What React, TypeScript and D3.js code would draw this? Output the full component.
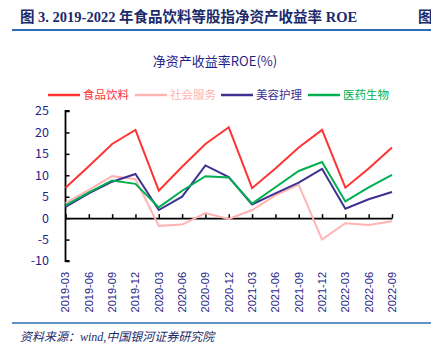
import React, { useEffect, useRef } from "react";
import * as d3 from "d3";

const quarters = [
  "2019-03", "2019-06", "2019-09", "2019-12",
  "2020-03", "2020-06", "2020-09", "2020-12",
  "2021-03", "2021-06", "2021-09", "2021-12",
  "2022-03", "2022-06", "2022-09",
];

const food = [7.1, 12.1, 17.3, 20.6, 6.4, 12.0, 17.3, 21.2, 7.0, 11.6, 16.5, 20.6, 7.1, 11.6, 16.5];
const social = [3.5, 6.6, 9.8, 9.1, -1.8, -1.5, 1.2, -0.2, 1.9, 5.3, 7.8, -5.0, -1.2, -1.6, -0.7];
const beauty = [2.6, 5.8, 8.5, 10.3, 1.9, 5.0, 12.3, 9.6, 3.2, 5.8, 8.3, 11.5, 2.2, 4.4, 6.1];
const pharma = [3.0, 6.0, 8.8, 8.0, 2.5, 6.4, 9.8, 9.5, 3.4, 7.2, 11.0, 13.1, 3.9, 7.2, 10.1];

const seriesNames = ["食品饮料", "社会服务", "美容护理", "医药生物"];
const seriesColors = ["#ff3333", "#ffb3b3", "#3d3192", "#00b050"];
const yTicks = [-10, -5, 0, 5, 10, 15, 20, 25];

const navy = "#1f1f8a";

function App() {
  const svgRef = useRef<SVGSVGElement | null>(null);

  useEffect(() => {
    const svg = d3.select(svgRef.current);
    svg.selectAll("*").remove();

    const width = 431;
    const height = 353;
    const cjk = "'Noto Sans CJK SC', 'Noto Sans', sans-serif";

    svg.attr("width", width).attr("height", height);

    // header
    svg
      .append("text")
      .attr("x", 20)
      .attr("y", 22)
      .attr("fill", "#1b2a6b")
      .attr("font-family", "'Liberation Serif', 'Noto Sans CJK SC', serif")
      .attr("font-weight", "bold")
      .attr("font-size", 14.5)
      .text("图 3. 2019-2022 年食品饮料等股指净资产收益率 ROE");
    svg
      .append("text")
      .attr("x", 418)
      .attr("y", 22)
      .attr("fill", "#1b2a6b")
      .attr("font-family", "'Liberation Serif', 'Noto Sans CJK SC', serif")
      .attr("font-weight", "bold")
      .attr("font-size", 14.5)
      .text("图");
    svg
      .append("line")
      .attr("x1", 12)
      .attr("x2", width)
      .attr("y1", 30)
      .attr("y2", 30)
      .attr("stroke", "#2e6db5")
      .attr("stroke-width", 2);

    // chart title
    svg
      .append("text")
      .attr("x", 215)
      .attr("y", 66)
      .attr("text-anchor", "middle")
      .attr("fill", navy)
      .attr("font-family", cjk)
      .attr("font-size", 13)
      .text("净资产收益率ROE(%)");

    // legend
    const legendX = [48, 135, 221, 308];
    seriesNames.forEach((name, i) => {
      const g = svg.append("g").attr("transform", `translate(${legendX[i]}, 95)`);
      g.append("line")
        .attr("x1", 0)
        .attr("x2", 32)
        .attr("stroke", seriesColors[i])
        .attr("stroke-width", 2.5);
      g.append("text")
        .attr("x", 35)
        .attr("dy", "0.35em")
        .attr("fill", seriesColors[i])
        .attr("font-family", cjk)
        .attr("font-size", 11.5)
        .text(name);
    });

    const x = d3
      .scalePoint<string>()
      .domain(quarters)
      .range([65.5, 392]);

    const y = d3.scaleLinear().domain([-10, 25]).range([261, 111]);

    // y axis
    const yAxis = svg
      .append("g")
      .attr("transform", "translate(65.5, 0)")
      .call(d3.axisRight(y).tickValues(yTicks).tickSize(4).tickFormat(() => ""));
    yAxis.select(".domain").attr("stroke", "#000").attr("stroke-width", 1.8).attr("d", `M4,${y(-10)}H0V${y(25)}H4`);
    yAxis.selectAll(".tick line").attr("stroke", "#000").attr("stroke-width", 1.5);

    svg
      .append("g")
      .selectAll("text")
      .data(yTicks)
      .enter()
      .append("text")
      .attr("x", 49)
      .attr("y", (d) => y(d))
      .attr("dy", "0.35em")
      .attr("text-anchor", "end")
      .attr("fill", navy)
      .attr("font-family", cjk)
      .attr("font-size", 12.5)
      .text((d) => d);

    // x axis at zero
    const xAxis = svg
      .append("g")
      .attr("transform", `translate(0, ${y(0)})`)
      .call(d3.axisTop(x).tickSize(4).tickSizeOuter(0).tickFormat(() => ""));
    xAxis.select(".domain").attr("stroke", "#000").attr("stroke-width", 1.8);
    xAxis.selectAll(".tick line").attr("stroke", "#000").attr("stroke-width", 1.5);

    svg
      .append("g")
      .selectAll("text")
      .data(quarters)
      .enter()
      .append("text")
      .attr("transform", (d) => `translate(${x(d)}, 272) rotate(-90)`)
      .attr("dy", "0.35em")
      .attr("text-anchor", "end")
      .attr("fill", navy)
      .attr("font-family", "'Liberation Sans', Arial, sans-serif")
      .attr("font-size", 11)
      .text((d) => d);

    // series
    const allSeries = [food, social, beauty, pharma];
    const line = d3
      .line<number>()
      .x((d, i) => x(quarters[i]) as number)
      .y((d) => y(d));

    allSeries.forEach((values, i) => {
      svg
        .append("path")
        .datum(values)
        .attr("fill", "none")
        .attr("stroke", seriesColors[i])
        .attr("stroke-width", 2)
        .attr("stroke-linejoin", "miter")
        .attr("d", line);
    });

    // footer
    svg
      .append("line")
      .attr("x1", 12)
      .attr("x2", width)
      .attr("y1", 323)
      .attr("y2", 323)
      .attr("stroke", "#2e6db5")
      .attr("stroke-width", 1.5);
    svg
      .append("text")
      .attr("x", 20)
      .attr("y", 341)
      .attr("fill", "#1b2a6b")
      .attr("font-family", "'Liberation Serif', 'Noto Sans CJK SC', serif")
      .attr("font-style", "italic")
      .attr("font-size", 12)
      .text("资料来源：wind,中国银河证券研究院");
  }, []);

  return (
    <div style={{ position: "absolute", left: 0, top: 0 }}>
      <svg ref={svgRef}></svg>
    </div>
  );
}

export default App;
